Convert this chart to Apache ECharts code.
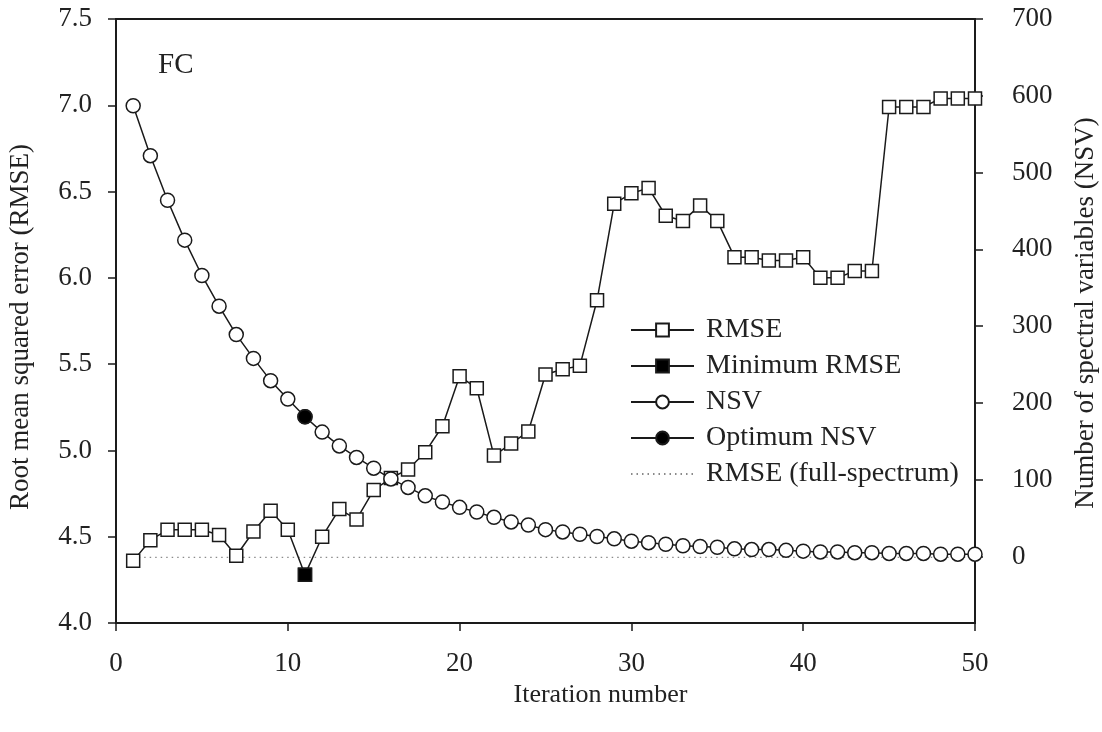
<!DOCTYPE html>
<html>
<head>
<meta charset="utf-8">
<script src="https://cdn.jsdelivr.net/npm/echarts@6/dist/echarts.min.js"></script>
<style>
  html, body { margin: 0; padding: 0; background: #fff; }
  #chart { width: 1102px; height: 732px; }
</style>
</head>
<body>
<div id="chart"></div>
<script>
	'use strict';

	/****** data *****/
	var iterations = [1, 2, 3, 4, 5, 6, 7, 8, 9, 10, 11, 12, 13, 14, 15, 16, 17, 18, 19, 20,
		21, 22, 23, 24, 25, 26, 27, 28, 29, 30, 31, 32, 33, 34, 35, 36, 37, 38, 39, 40,
		41, 42, 43, 44, 45, 46, 47, 48, 49, 50];
	var rmse = [4.36, 4.48, 4.54, 4.54, 4.54, 4.51, 4.39, 4.53, 4.65, 4.54,
		4.28, 4.50, 4.66, 4.60, 4.77, 4.84, 4.89, 4.99, 5.14, 5.43,
		5.36, 4.97, 5.04, 5.11, 5.44, 5.47, 5.49, 5.87, 6.43, 6.49,
		6.52, 6.36, 6.33, 6.42, 6.33, 6.12, 6.12, 6.10, 6.10, 6.12,
		6.00, 6.00, 6.04, 6.04, 6.99, 6.99, 6.99, 7.04, 7.04, 7.04];
	var nsv = [587, 522, 464, 412, 366, 326, 289, 258, 229, 205,
		182, 162, 144, 129, 115, 101, 90, 79, 71, 64,
		58, 51, 45, 41, 35, 32, 29, 26, 23, 20,
		18, 16, 14, 13, 12, 10, 9, 9, 8, 7,
		6, 6, 5, 5, 4, 4, 4, 3, 3, 3];
	var bestIteration = 11;
	var rmseFullSpectrum = 4.38;
	var xTicks = [0, 10, 20, 30, 40, 50];
	var rmseTicks = [4.0, 4.5, 5.0, 5.5, 6.0, 6.5, 7.0, 7.5];
	var nsvTicks = [0, 100, 200, 300, 400, 500, 600, 700];

	var font = "'Liberation Serif', 'Times New Roman', serif";
	var ink = '#1a1a1a';

	function pairs(xs, ys) {
		return xs.map(function (x, i) { return [x, ys[i]]; });
	}

	var axisLine = { show: true, onZero: false, lineStyle: { color: ink, width: 1.8 } };
	var axisTick = { show: true, inside: false, length: 8, lineStyle: { color: ink, width: 1.5 } };
	var tickLabel = { color: '#222', fontFamily: font, fontSize: 27 };

	var option = {
		animation: false,
		backgroundColor: '#fff',
		title: {
			text: 'FC',
			left: 153,
			top: 46,
			textStyle: { fontFamily: font, fontSize: 29, fontWeight: 'normal', color: '#222' }
		},
		grid: {
			left: 116,
			right: 127,
			top: 19,
			bottom: 109,
			outerBoundsMode: 'none',
			containLabel: false,
			show: true,
			borderColor: ink,
			borderWidth: 1.8
		},
		legend: {
			orient: 'vertical',
			left: 625,
			top: 310,
			itemWidth: 63,
			itemHeight: 16,
			itemGap: 6,
			textStyle: { fontFamily: font, fontSize: 28, color: '#222', lineHeight: 30, padding: [0, 0, 0, 7] },
			data: [
				'RMSE',
				'Minimum RMSE',
				'NSV',
				'Optimum NSV',
				{ name: 'RMSE (full-spectrum)', itemStyle: { opacity: 0 } }
			]
		},
		xAxis: {
			type: 'value',
			min: xTicks[0],
			max: xTicks[xTicks.length - 1],
			interval: 10,
			name: 'Iteration number',
			nameLocation: 'middle',
			nameGap: 50,
			nameTextStyle: { fontFamily: font, fontSize: 26, color: '#222', padding: [0, 0, 0, 110] },
			axisLine: axisLine,
			axisTick: axisTick,
			axisLabel: Object.assign({ margin: 27 }, tickLabel),
			splitLine: { show: false }
		},
		yAxis: [
			{
				type: 'value',
				position: 'left',
				min: rmseTicks[0],
				max: rmseTicks[rmseTicks.length - 1],
				interval: 0.5,
				name: 'Root mean squared error (RMSE)',
				nameLocation: 'middle',
				nameRotate: 90,
				nameGap: 82,
				nameTextStyle: { fontFamily: font, fontSize: 27, color: '#222', padding: [0, 12, 0, 0] },
				axisLine: axisLine,
				axisTick: axisTick,
				axisLabel: Object.assign({ margin: 24, formatter: function (v) { return v.toFixed(1); } }, tickLabel),
				splitLine: { show: false }
			},
			{
				type: 'value',
				position: 'right',
				min: -86.6,
				max: 700,
				name: 'Number of spectral variables (NSV)',
				nameLocation: 'middle',
				nameRotate: 90,
				nameGap: 97,
				nameTextStyle: { fontFamily: font, fontSize: 27, color: '#222', padding: [0, 0, 0, 16] },
				axisLine: axisLine,
				axisTick: Object.assign({ customValues: nsvTicks }, axisTick),
				axisLabel: Object.assign({ margin: 37, customValues: nsvTicks }, tickLabel),
				splitLine: { show: false }
			}
		],
		series: [
			{
				name: 'RMSE (full-spectrum)',
				type: 'line',
				yAxisIndex: 0,
				symbol: 'none',
				data: [[iterations[0], rmseFullSpectrum], [iterations[iterations.length - 1], rmseFullSpectrum]],
				lineStyle: { color: '#8a8a8a', width: 1.3, type: [1.5, 4] },
				itemStyle: { color: '#8a8a8a' },
				z: 1
			},
			{
				name: 'RMSE',
				type: 'line',
				yAxisIndex: 0,
				symbol: 'rect',
				symbolSize: 13,
				data: pairs(iterations, rmse),
				lineStyle: { color: ink, width: 1.5 },
				itemStyle: { color: '#fff', borderColor: ink, borderWidth: 1.5 },
				z: 2
			},
			{
				name: 'NSV',
				type: 'line',
				yAxisIndex: 1,
				symbol: 'circle',
				symbolSize: 14,
				data: pairs(iterations, nsv),
				lineStyle: { color: ink, width: 1.5 },
				itemStyle: { color: '#fff', borderColor: ink, borderWidth: 1.5 },
				z: 3
			},
			{
				name: 'Minimum RMSE',
				type: 'line',
				yAxisIndex: 0,
				symbol: 'rect',
				symbolSize: 13,
				data: [[bestIteration, rmse[bestIteration - 1]]],
				lineStyle: { color: ink, width: 1.5 },
				itemStyle: { color: '#000', borderColor: ink, borderWidth: 1.5 },
				z: 4
			},
			{
				name: 'Optimum NSV',
				type: 'line',
				yAxisIndex: 1,
				symbol: 'circle',
				symbolSize: 14,
				data: [[bestIteration, nsv[bestIteration - 1]]],
				lineStyle: { color: ink, width: 1.5 },
				itemStyle: { color: '#000', borderColor: ink, borderWidth: 1.5 },
				z: 4
			}
		]
	};

	var chart = echarts.init(document.getElementById('chart'));
	chart.setOption(option);
</script>
</body>
</html>
